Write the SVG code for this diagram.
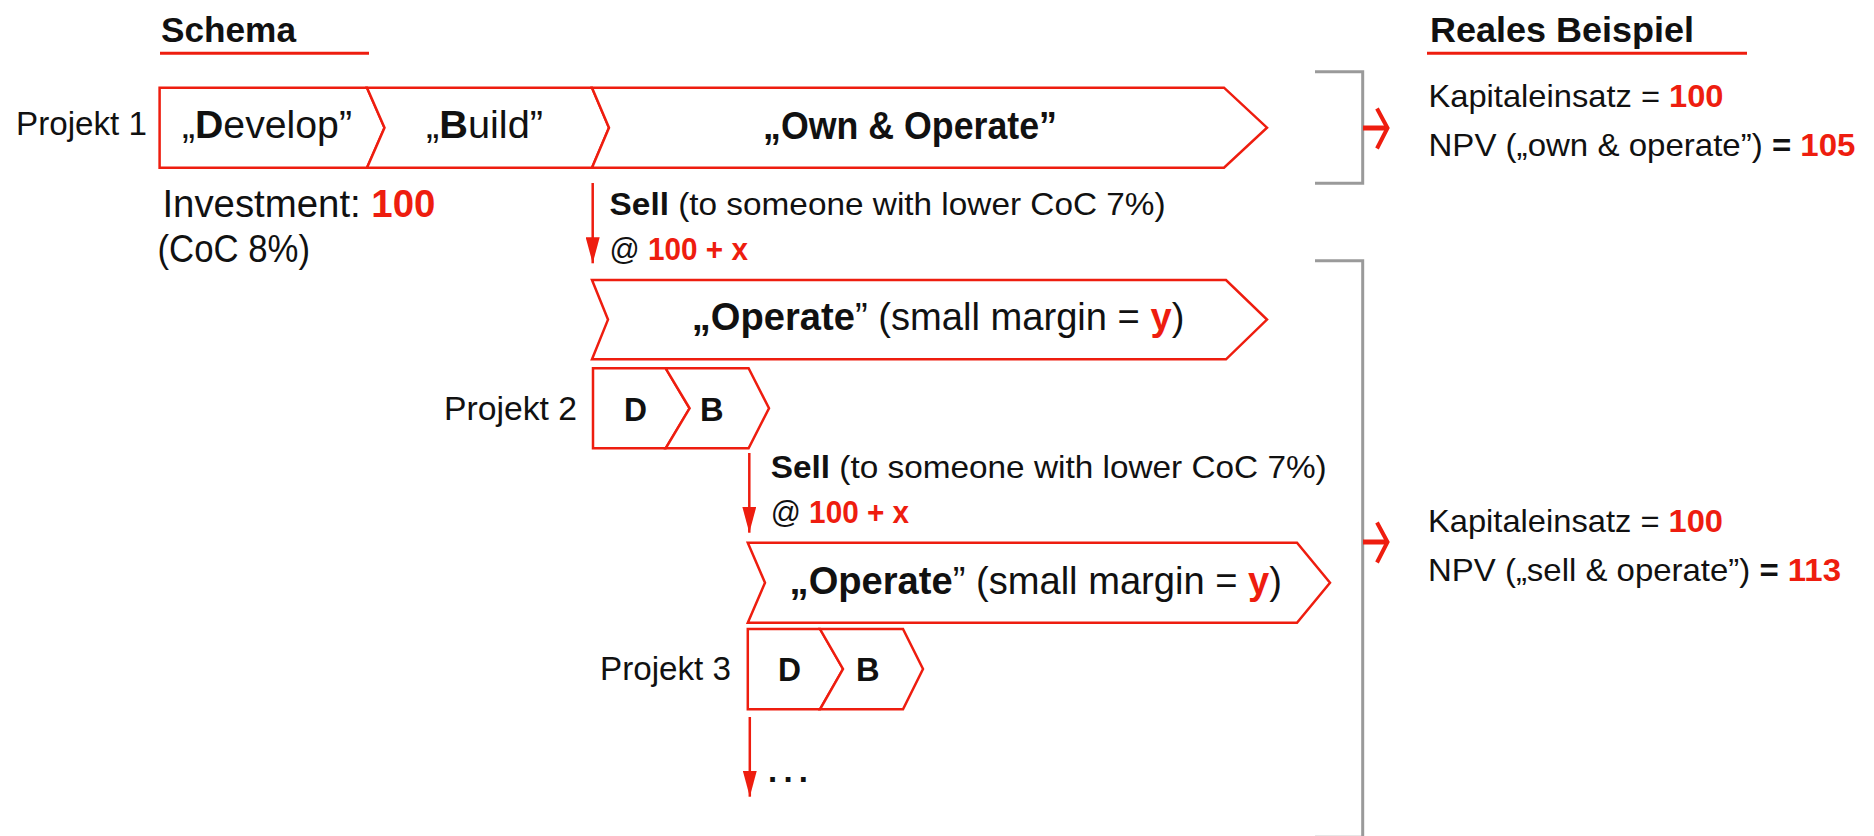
<svg xmlns="http://www.w3.org/2000/svg" width="1874" height="836" viewBox="0 0 1874 836">
  <style>
    text { font-family: "Liberation Sans", Arial, sans-serif; fill: #111; }
    .b { font-weight: bold; }
    .r { fill: #ee1d0f; font-weight: bold; }
    .head { font-size: 35px; font-weight: bold; }
    .lbl { font-size: 33px; }
    .box { font-size: 38px; }
    .note { font-size: 32px; }
    .side { font-size: 32px; }
    .stage { fill: #fff; stroke: #ee1d0f; stroke-width: 2.5; stroke-linejoin: miter; }
    .uline { stroke: #ee1d0f; stroke-width: 3; }
    .flow { stroke: #ee1d0f; stroke-width: 2.5; fill: none; }
    .brace { stroke: #9a9a9a; stroke-width: 3; fill: none; }
    .out { stroke: #ee1d0f; fill: none; }
  </style>
  <defs>
    <marker id="tri" viewBox="0 0 26 14" refX="26" refY="7" markerWidth="26" markerHeight="14" markerUnits="userSpaceOnUse" orient="auto">
      <path d="M0,0 L26,7 L0,14 Z" fill="#ee1d0f"/>
    </marker>
  </defs>

  <!-- section headings -->
  <g id="heading-schema">
    <text class="head" x="161" y="42" textLength="135" lengthAdjust="spacingAndGlyphs">Schema</text>
    <line class="uline" x1="160" y1="53.3" x2="369" y2="53.3"/>
  </g>
  <g id="heading-beispiel">
    <text class="head" x="1430" y="42.3" textLength="264" lengthAdjust="spacingAndGlyphs">Reales Beispiel</text>
    <line class="uline" x1="1427" y1="53.3" x2="1747" y2="53.3"/>
  </g>

  <!-- project 1 -->
  <g id="projekt1-label">
    <text class="lbl" x="16" y="135" textLength="131" lengthAdjust="spacingAndGlyphs">Projekt 1</text>
  </g>
  <g id="p1-develop">
    <polygon class="stage" points="159.6,87.7 367,87.7 384.5,127.7 367,167.7 159.6,167.7"/>
    <text class="box" x="182" y="138" textLength="170" lengthAdjust="spacingAndGlyphs">„<tspan class="b">D</tspan>evelop”</text>
  </g>
  <g id="p1-build">
    <polygon class="stage" points="367,87.7 592,87.7 609,127.7 592,167.7 367,167.7 384.5,127.7"/>
    <text class="box" x="426" y="138" textLength="117" lengthAdjust="spacingAndGlyphs">„<tspan class="b">B</tspan>uild”</text>
  </g>
  <g id="p1-own-operate">
    <polygon class="stage" points="592,87.7 1224,87.7 1267,127.7 1224,167.7 592,167.7 609,127.7"/>
    <text class="box b" x="763" y="139.3" textLength="294" lengthAdjust="spacingAndGlyphs">„Own &amp; Operate”</text>
  </g>
  <g id="p1-investment">
    <text class="box" x="162.4" y="217" font-size="36" textLength="273" lengthAdjust="spacingAndGlyphs">Investment: <tspan class="r">100</tspan></text>
    <text class="box" x="157.5" y="262" font-size="36" textLength="152.5" lengthAdjust="spacingAndGlyphs">(CoC 8%)</text>
  </g>

  <!-- first sale -->
  <g id="sell-1">
    <text class="note" x="609.6" y="215" textLength="556" lengthAdjust="spacingAndGlyphs"><tspan class="b">Sell</tspan> (to someone with lower CoC 7%)</text>
    <text class="note" x="609.6" y="260" textLength="138.4" lengthAdjust="spacingAndGlyphs">@ <tspan class="r">100 + x</tspan></text>
  </g>
  <g id="operate-1">
    <polygon class="stage" points="592,280 1226,280 1267,319.6 1226,359.3 592,359.3 608,319.6"/>
    <text class="box" x="691.8" y="330" font-size="37" textLength="492.6" lengthAdjust="spacingAndGlyphs"><tspan class="b">„Operate</tspan>” (small margin = <tspan class="r">y</tspan>)</text>
  </g>

  <!-- project 2 -->
  <g id="projekt2-label">
    <text class="lbl" x="444" y="420" textLength="133" lengthAdjust="spacingAndGlyphs">Projekt 2</text>
  </g>
  <g id="p2-develop">
    <polygon class="stage" points="593,368.3 665.7,368.3 689.6,408.3 665.7,448.3 593,448.3"/>
    <text class="lbl b" x="624" y="421" textLength="23" lengthAdjust="spacingAndGlyphs">D</text>
  </g>
  <g id="p2-build">
    <polygon class="stage" points="665.7,368.3 748.6,368.3 769,408.3 748.6,448.3 665.7,448.3 689.6,408.3"/>
    <text class="lbl b" x="700" y="421" textLength="23.6" lengthAdjust="spacingAndGlyphs">B</text>
  </g>
  <g id="sell-2">
    <text class="note" x="770.7" y="477.7" textLength="556" lengthAdjust="spacingAndGlyphs"><tspan class="b">Sell</tspan> (to someone with lower CoC 7%)</text>
    <text class="note" x="770.7" y="522.7" textLength="138.4" lengthAdjust="spacingAndGlyphs">@ <tspan class="r">100 + x</tspan></text>
  </g>
  <g id="operate-2">
    <polygon class="stage" points="747.8,542.7 1297,542.7 1330,582.7 1297,622.7 747.8,622.7 765,582.7"/>
    <text class="box" x="789.6" y="594" font-size="37" textLength="492.4" lengthAdjust="spacingAndGlyphs"><tspan class="b">„Operate</tspan>” (small margin = <tspan class="r">y</tspan>)</text>
  </g>

  <!-- project 3 -->
  <g id="projekt3-label">
    <text class="lbl" x="600" y="680" textLength="131" lengthAdjust="spacingAndGlyphs">Projekt 3</text>
  </g>
  <g id="p3-develop">
    <polygon class="stage" points="747.8,629 820,629 843,669 820,709.3 747.8,709.3"/>
    <text class="lbl b" x="778" y="681" textLength="23" lengthAdjust="spacingAndGlyphs">D</text>
  </g>
  <g id="p3-build">
    <polygon class="stage" points="820,629 903,629 923,669 903,709.3 820,709.3 843,669"/>
    <text class="lbl b" x="856" y="681" textLength="23.6" lengthAdjust="spacingAndGlyphs">B</text>
  </g>
  <g id="continuation">
    <text class="lbl b" x="768" y="782" textLength="40" lengthAdjust="spacing">...</text>
  </g>

  <!-- results -->
  <g id="result-own">
    <text class="side" x="1428.5" y="107" textLength="295" lengthAdjust="spacingAndGlyphs">Kapitaleinsatz = <tspan class="r">100</tspan></text>
    <text class="side" x="1428.5" y="156" font-size="33" textLength="427" lengthAdjust="spacingAndGlyphs">NPV („own &amp; operate”) <tspan class="b">=</tspan> <tspan class="r">105</tspan></text>
  </g>
  <g id="result-sell">
    <text class="side" x="1428" y="531.7" textLength="295" lengthAdjust="spacingAndGlyphs">Kapitaleinsatz = <tspan class="r">100</tspan></text>
    <text class="side" x="1428" y="580.5" font-size="33" textLength="413" lengthAdjust="spacingAndGlyphs">NPV („sell &amp; operate”) <tspan class="b">=</tspan> <tspan class="r">113</tspan></text>
  </g>

  <!-- connectors -->
  <g id="connectors">
    <line class="flow" x1="592.7" y1="183" x2="592.7" y2="263.3" marker-end="url(#tri)"/>
    <line class="flow" x1="749.3" y1="453" x2="749.3" y2="532.7" marker-end="url(#tri)"/>
    <line class="flow" x1="749.8" y1="717" x2="749.8" y2="796.7" marker-end="url(#tri)"/>

    <path class="brace" d="M1315,71.7 H1362.7 V183.3 H1315"/>
    <path class="brace" d="M1315,260.7 H1362.7 V837.3 H1315"/>

    <line class="out" stroke-width="5" x1="1363" y1="128" x2="1386" y2="128"/>
    <polyline class="out" stroke-width="4" points="1377,108.5 1387.5,128 1377,148.5"/>
    <line class="out" stroke-width="5" x1="1363" y1="542" x2="1386" y2="542"/>
    <polyline class="out" stroke-width="4" points="1377,522.5 1387.5,542 1377,562.5"/>
  </g>
</svg>
